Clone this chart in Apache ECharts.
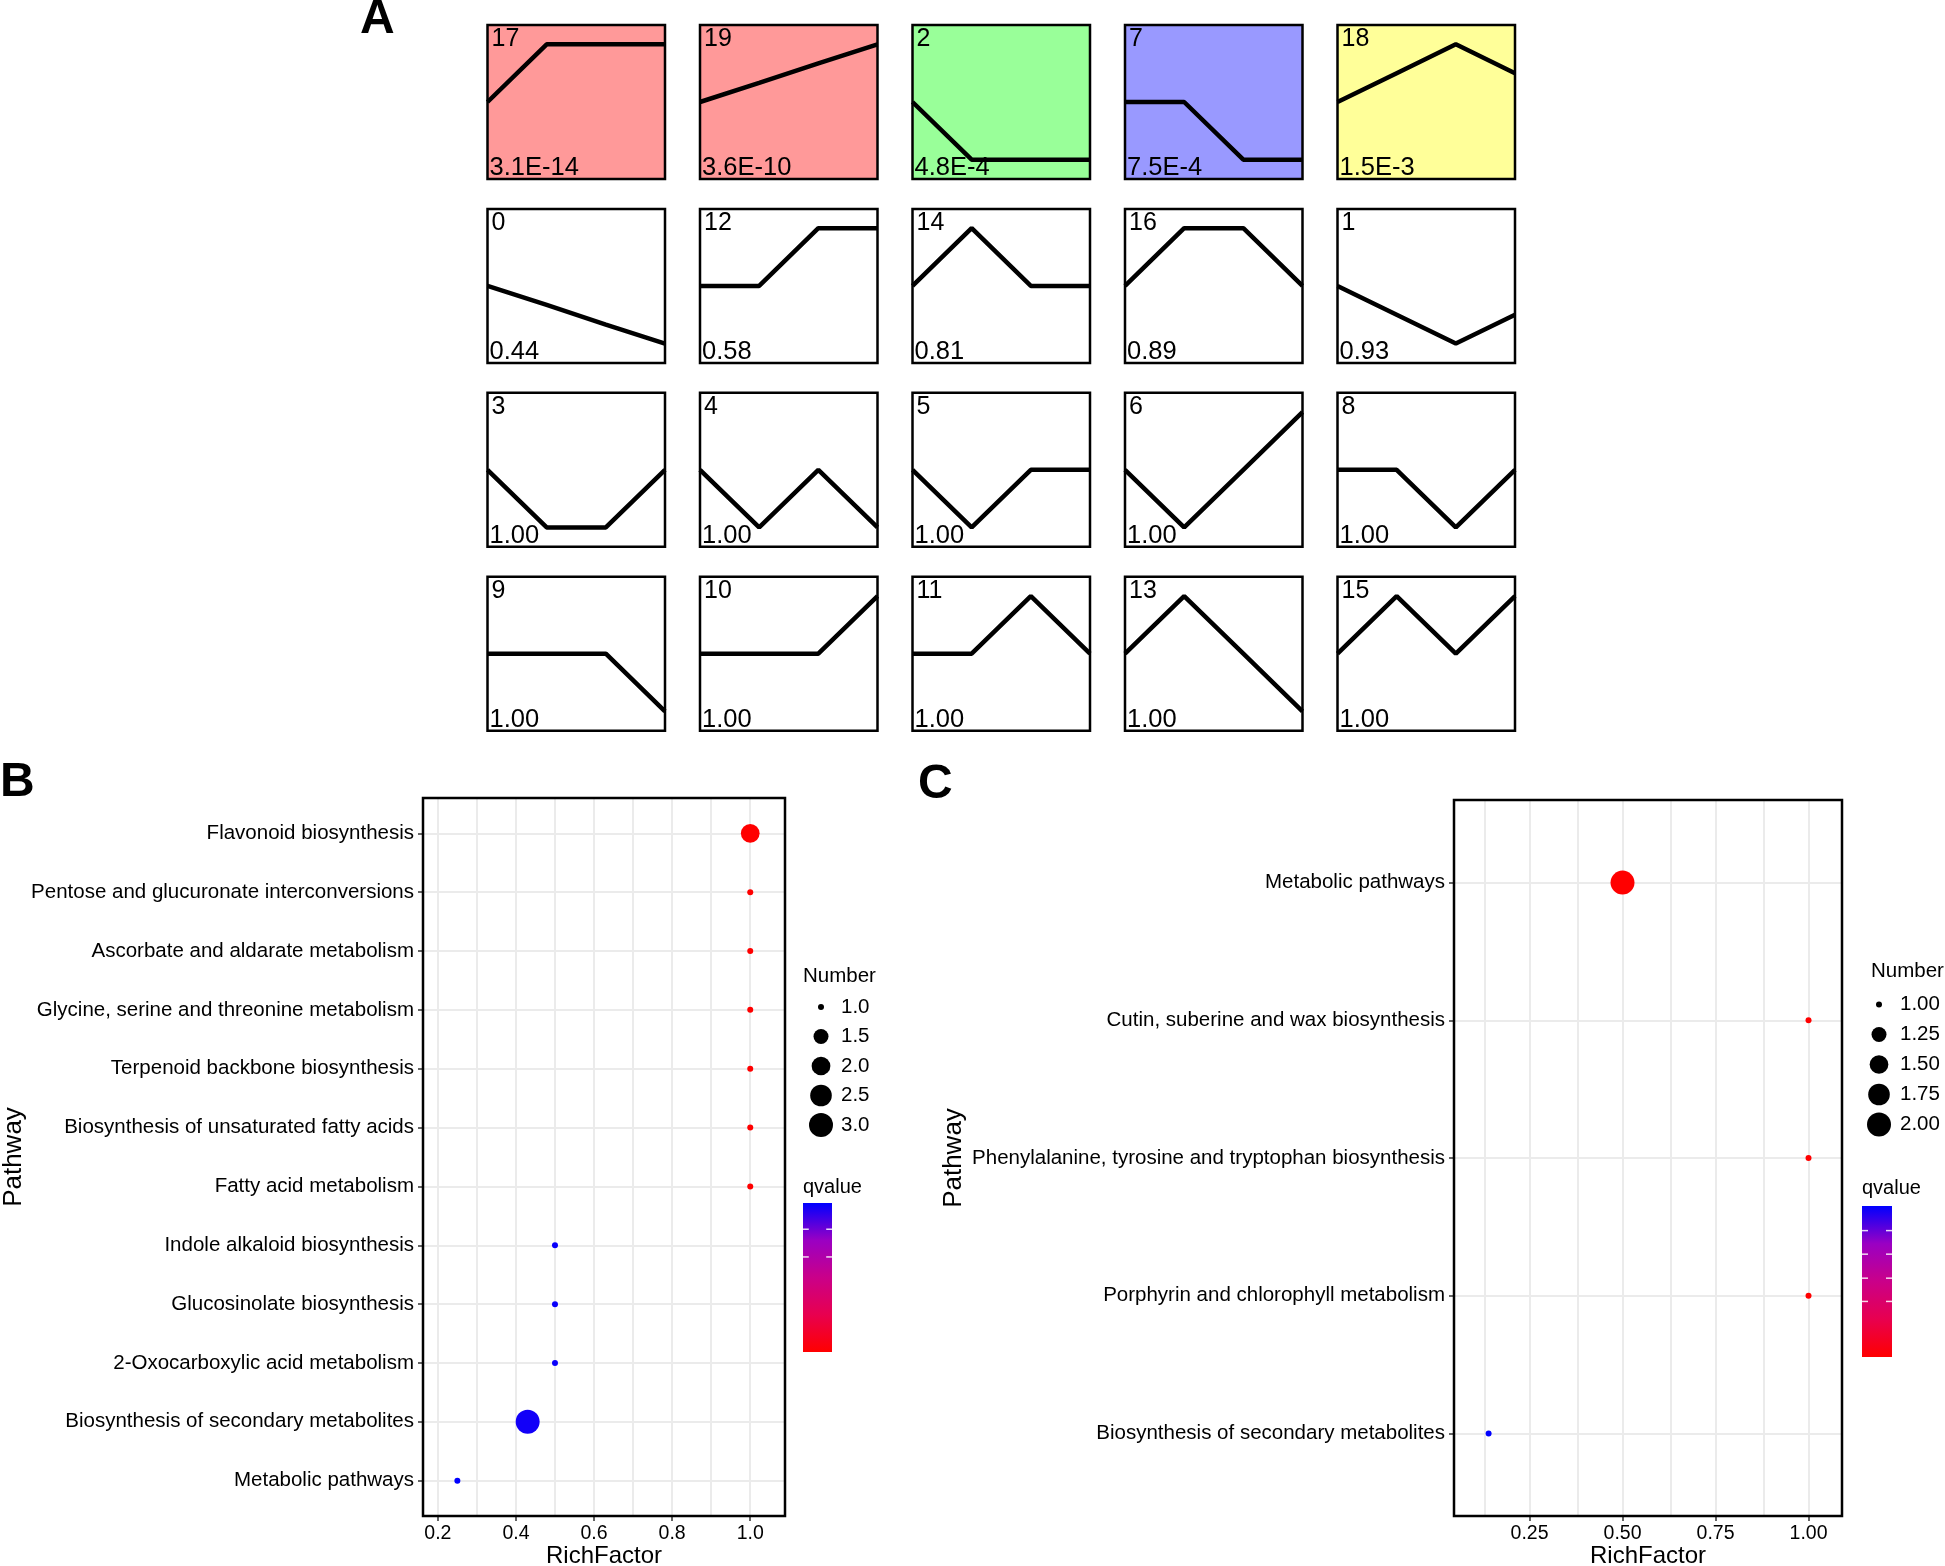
<!DOCTYPE html>
<html>
<head>
<meta charset="utf-8">
<script src="https://cdn.jsdelivr.net/npm/echarts@6.0.0/dist/echarts.min.js"></script>
<style>
html, body { margin:0; padding:0; background:#fff; }
#chart { width:1945px; height:1566px; }
</style>
</head>
<body>
<div id="chart"></div>
<script>
// ===== Panel A: temporal expression profiles =====
const timePoints = [0, 1, 2, 3];
const profileIds = [17, 19, 2, 7, 18, 0, 12, 14, 16, 1, 3, 4, 5, 6, 8, 9, 10, 11, 13, 15];
const profilePValues = ['3.1E-14', '3.6E-10', '4.8E-4', '7.5E-4', '1.5E-3',
  '0.44', '0.58', '0.81', '0.89', '0.93',
  '1.00', '1.00', '1.00', '1.00', '1.00',
  '1.00', '1.00', '1.00', '1.00', '1.00'];
const profileValues = [
  [0, 1, 1, 1], [0, 0.33, 0.67, 1], [0, -1, -1, -1], [0, 0, -1, -1], [0, 0.5, 1, 0.5],
  [0, -0.33, -0.67, -1], [0, 0, 1, 1], [0, 1, 0, 0], [0, 1, 1, 0], [0, -0.5, -1, -0.5],
  [0, -1, -1, 0], [0, -1, 0, -1], [0, -1, 0, 0], [0, -1, 0, 1], [0, 0, -1, 0],
  [0, 0, 0, -1], [0, 0, 0, 1], [0, 0, 1, 0], [0, 1, 0, -1], [0, 1, 0, 1]
];

// ===== Panel B: KEGG enrichment =====
const bPathways = ['Flavonoid biosynthesis', 'Pentose and glucuronate interconversions',
  'Ascorbate and aldarate metabolism', 'Glycine, serine and threonine metabolism',
  'Terpenoid backbone biosynthesis', 'Biosynthesis of unsaturated fatty acids',
  'Fatty acid metabolism', 'Indole alkaloid biosynthesis', 'Glucosinolate biosynthesis',
  '2-Oxocarboxylic acid metabolism', 'Biosynthesis of secondary metabolites', 'Metabolic pathways'];
const bRichFactor = [1.0, 1.0, 1.0, 1.0, 1.0, 1.0, 1.0, 0.5, 0.5, 0.5, 0.43, 0.25];
const bNumber = [2, 1, 1, 1, 1, 1, 1, 1, 1, 1, 3, 1];
const bQvalue = [0.03, 0.03, 0.03, 0.03, 0.03, 0.03, 0.03, 0.69, 0.69, 0.69, 0.68, 0.70];
const bTicks = [0.2, 0.4, 0.6, 0.8, 1.0];
const bGridLines = [0.2, 0.3, 0.4, 0.5, 0.6, 0.7, 0.8, 0.9, 1.0];
const bSizeBreaks = [1.0, 1.5, 2.0, 2.5, 3.0];

// ===== Panel C: KEGG enrichment =====
const cPathways = ['Metabolic pathways', 'Cutin, suberine and wax biosynthesis',
  'Phenylalanine, tyrosine and tryptophan biosynthesis', 'Porphyrin and chlorophyll metabolism',
  'Biosynthesis of secondary metabolites'];
const cRichFactor = [0.5, 1.0, 1.0, 1.0, 0.14];
const cNumber = [2, 1, 1, 1, 1];
const cQvalue = [0.06, 0.06, 0.06, 0.06, 0.53];
const cTicks = [0.25, 0.5, 0.75, 1.0];
const cGridLines = [0.125, 0.25, 0.375, 0.5, 0.625, 0.75, 0.875, 1.0];
const cSizeBreaks = [1.0, 1.25, 1.5, 1.75, 2.0];

// ===== Styles / layout =====
const FONT = '"Liberation Sans", Arial, Helvetica, sans-serif';
const profileBg = { 17: '#FF9999', 19: '#FF9999', 2: '#99FF99', 7: '#9999FF', 18: '#FFFF99' };
const Q_COLORS = ['#FF0000', '#E8004F', '#CA0089', '#9A00C3', '#0000FF'];
const A_LEFT = 487.5, A_DX = 212.5, A_W = 177.5, A_TOP = 25, A_DY = 183.9, A_H = 154;
const layoutB = { left: 423, top: 798, width: 362, height: 718, xMin: 0.162, xMax: 1.089, dec: 1,
  legendX: 803, legendNumY: 976, sizeCx: 821, sizeTx: 841, sizeY0: 1007, sizeDy: 29.5,
  qTitleX: 803, qTitleY: 1187, barX: 803, barY: 1203, barW: 29, barH: 149, qTicks: [0.176, 0.362],
  pathwayX: 14, titleX: 604 };
const layoutC = { left: 1454, top: 800, width: 388, height: 716, xMin: 0.047, xMax: 1.09, dec: 2,
  legendX: 1871, legendNumY: 971, sizeCx: 1879, sizeTx: 1900, sizeY0: 1004.5, sizeDy: 30,
  qTitleX: 1862, qTitleY: 1188, barX: 1862, barY: 1206, barW: 30, barH: 151, qTicks: [0.163, 0.319, 0.478, 0.632],
  pathwayX: 954, titleX: 1648 };

const sizeScale = (n, nMin, nMax) => 6 + 18 * Math.sqrt((n - nMin) / (nMax - nMin));

const grids = [], xAxes = [], yAxes = [], series = [], graphics = [], visualMaps = [];

// ---- Panel A ----
profileIds.forEach((id, i) => {
  const col = i % 5, row = Math.floor(i / 5);
  const left = A_LEFT + col * A_DX, top = A_TOP + row * A_DY;
  const gi = grids.length;
  grids.push({ left, top, width: A_W, height: A_H, show: true,
    backgroundColor: profileBg[id] || '#FFFFFF', borderColor: '#000', borderWidth: 2.5 });
  xAxes.push({ gridIndex: gi, type: 'value', min: 0, max: 3, show: false });
  yAxes.push({ gridIndex: gi, type: 'value', min: -1.335, max: 1.335, show: false });
  series.push({ type: 'line', xAxisIndex: gi, yAxisIndex: gi, silent: true, z: 2,
    data: timePoints.map((t, k) => [t, profileValues[i][k]]),
    showSymbol: false, symbol: 'none', lineStyle: { color: '#000', width: 4.5 } });
  graphics.push({ type: 'text', x: left + 4, y: top + 14.5, z: 10,
    style: { text: String(id), fontSize: 25, fontFamily: FONT, fill: '#000', verticalAlign: 'middle' } });
  graphics.push({ type: 'text', x: left + 2, y: top + A_H - 11, z: 10,
    style: { text: profilePValues[i], fontSize: 25.5, fontFamily: FONT, fill: '#000', verticalAlign: 'middle' } });
});

// ---- Dot panels ----
function addDotPanel(L, pathways, rich, num, q, ticks, gridLines, sizeBreaks) {
  const gF = grids.length;
  grids.push({ left: L.left, top: L.top, width: L.width, height: L.height, show: true,
    backgroundColor: 'rgba(0,0,0,0)', borderColor: '#000', borderWidth: 2.5, z: 5 });
  xAxes.push({ gridIndex: gF, type: 'value', min: L.xMin, max: L.xMax,
    axisLine: { show: false }, splitLine: { show: false },
    axisTick: { show: true, length: 5, lineStyle: { color: '#333', width: 1.5 }, customValues: ticks },
    axisLabel: { show: true, customValues: ticks, formatter: v => Number(v).toFixed(L.dec),
      fontSize: 19.5, color: '#000', fontFamily: FONT, margin: 8 } });
  yAxes.push({ gridIndex: gF, type: 'value', min: 0, max: 1, show: false });
  series.push({ type: 'line', xAxisIndex: gF, yAxisIndex: gF, data: [], silent: true, z: 0, zlevel: 0,
    markLine: { silent: true, z: 0, symbol: 'none', animation: false, label: { show: false },
      lineStyle: { color: '#EBEBEB', width: 2, type: 'solid' },
      data: gridLines.map(v => ({ xAxis: v })) } });

  const n = pathways.length;
  const step = L.height / (n - 1 + 1.2);
  const gD = grids.length;
  grids.push({ left: L.left, top: L.top + 0.6 * step, width: L.width, height: L.height - 1.2 * step, show: false });
  xAxes.push({ gridIndex: gD, type: 'value', min: L.xMin, max: L.xMax, show: false });
  yAxes.push({ gridIndex: gD, type: 'category', data: pathways, inverse: true, boundaryGap: false,
    axisLine: { show: false },
    axisTick: { show: true, length: 5, lineStyle: { color: '#333', width: 1.5 } },
    axisLabel: { interval: 0, fontSize: 20.5, color: '#000', fontFamily: FONT, margin: 9, padding: [4, 0, 0, 0] },
    splitLine: { show: true, lineStyle: { color: '#EBEBEB', width: 2 } } });

  const nMin = Math.min(...sizeBreaks), nMax = Math.max(...sizeBreaks);
  const sIdx = series.length;
  series.push({ type: 'scatter', xAxisIndex: gD, yAxisIndex: gD, z: 4,
    data: pathways.map((p, i) => [rich[i], p, num[i], q[i]]),
    symbolSize: d => sizeScale(d[2], nMin, nMax), itemStyle: { opacity: 1 } });
  visualMaps.push({ type: 'continuous', show: false, seriesIndex: sIdx, dimension: 3,
    min: Math.min(...q), max: Math.max(...q), inRange: { color: Q_COLORS } });

  // size legend
  graphics.push({ type: 'text', x: L.legendX, y: L.legendNumY,
    style: { text: 'Number', fontSize: 20.5, fontFamily: FONT, fill: '#000', verticalAlign: 'middle' } });
  sizeBreaks.forEach((b, k) => {
    const cy = L.sizeY0 + k * L.sizeDy;
    graphics.push({ type: 'circle', shape: { cx: L.sizeCx, cy, r: sizeScale(b, nMin, nMax) / 2 }, style: { fill: '#000' } });
    graphics.push({ type: 'text', x: L.sizeTx, y: cy,
      style: { text: b.toFixed(L.dec), fontSize: 20.5, fontFamily: FONT, fill: '#000', verticalAlign: 'middle' } });
  });
  // colour bar
  graphics.push({ type: 'text', x: L.qTitleX, y: L.qTitleY,
    style: { text: 'qvalue', fontSize: 20, fontFamily: FONT, fill: '#000', verticalAlign: 'middle' } });
  const stops = Q_COLORS.slice().reverse().map((c, k) => ({ offset: k / (Q_COLORS.length - 1), color: c }));
  graphics.push({ type: 'rect', shape: { x: L.barX, y: L.barY, width: L.barW, height: L.barH },
    style: { fill: { type: 'linear', x: 0, y: 0, x2: 0, y2: 1, colorStops: stops } } });
  L.qTicks.forEach(f => {
    const ty = L.barY + f * L.barH;
    const tl = L.barW / 5;
    graphics.push({ type: 'line', shape: { x1: L.barX, y1: ty, x2: L.barX + tl, y2: ty },
      style: { stroke: 'rgba(255,255,255,0.85)', lineWidth: 1.5 } });
    graphics.push({ type: 'line', shape: { x1: L.barX + L.barW - tl, y1: ty, x2: L.barX + L.barW, y2: ty },
      style: { stroke: 'rgba(255,255,255,0.85)', lineWidth: 1.5 } });
  });
  // axis titles
  graphics.push({ type: 'text', x: L.titleX, y: 1556.5,
    style: { text: 'RichFactor', fontSize: 24, fontFamily: FONT, fill: '#000', align: 'center', verticalAlign: 'middle' } });
  graphics.push({ type: 'text', x: L.pathwayX, y: L.top + L.height / 2, rotation: Math.PI / 2,
    style: { text: 'Pathway', fontSize: 26, fontFamily: FONT, fill: '#000', align: 'center', verticalAlign: 'middle' } });
}

addDotPanel(layoutB, bPathways, bRichFactor, bNumber, bQvalue, bTicks, bGridLines, bSizeBreaks);
addDotPanel(layoutC, cPathways, cRichFactor, cNumber, cQvalue, cTicks, cGridLines, cSizeBreaks);

// panel letters
[['A', 360, 20], ['B', 0, 782.5], ['C', 918, 784.5]].forEach(([t, x, y]) => {
  graphics.push({ type: 'text', x, y,
    style: { text: t, fontSize: 48, fontWeight: 'bold', fontFamily: FONT, fill: '#000', verticalAlign: 'middle' } });
});

const chart = echarts.init(document.getElementById('chart'), null, { renderer: 'canvas' });
chart.setOption({
  animation: false,
  backgroundColor: '#FFFFFF',
  grid: grids,
  xAxis: xAxes,
  yAxis: yAxes,
  visualMap: visualMaps,
  series: series,
  graphic: { elements: graphics }
});
</script>
</body>
</html>
